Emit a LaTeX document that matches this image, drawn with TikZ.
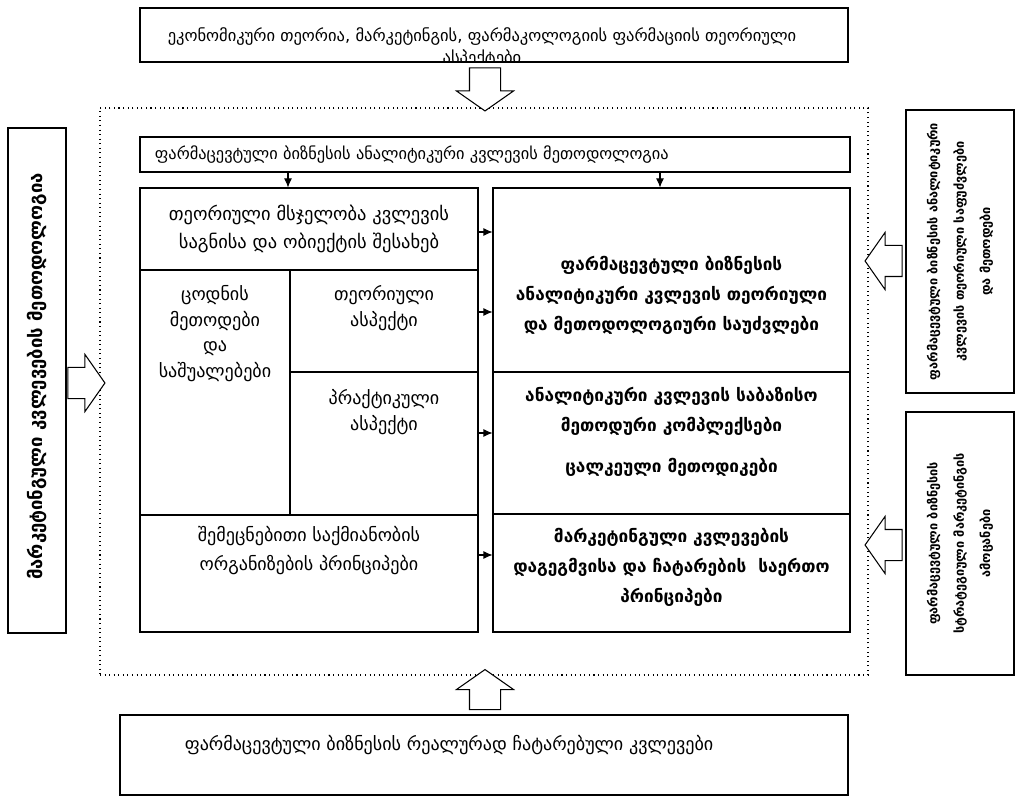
\documentclass[tikz,border=0pt]{standalone}
\usepackage{fontspec}
\setmainfont{DejaVu Sans}
\usetikzlibrary{shapes.geometric, shapes.arrows, arrows, arrows.meta, positioning}

\tikzstyle{block} = [rectangle, draw=black, line width=0.6pt, inner sep=0pt]
\tikzstyle{frame} = [rectangle, draw=black, line width=0.6pt, dotted, inner sep=0pt]
\tikzstyle{small} = [inner sep=0pt, align=center, font=\fontsize{9.4}{12.5}\selectfont]
\tikzstyle{plain} = [inner sep=0pt, align=center, font=\fontsize{10.3}{14.5}\selectfont]
\tikzstyle{heavy} = [inner sep=0pt, align=center, font=\bfseries\fontsize{9.8}{17}\selectfont]
\tikzstyle{vtext} = [inner sep=0pt, align=center, rotate=90, font=\bfseries\fontsize{10.5}{15}\selectfont]
\tikzstyle{vsmall} = [inner sep=0pt, align=center, rotate=90, font=\bfseries\fontsize{7.2}{15}\selectfont]
\tikzstyle{hollow} = [single arrow, draw=black, line width=0.6pt, fill=white, inner xsep=0pt, inner ysep=3mm, minimum width=11.2mm, single arrow head extend=2.6mm, single arrow tip angle=110]
\tikzstyle{arrow} = [line width=0.6pt,-{Latex[length=1.8mm,width=1.6mm]}]

\begin{document}
\begin{tikzpicture}[x=0.2mm, y=-0.2mm]
\useasboundingbox (0,0) rectangle (1017,798);

%% frame and outer boxes
\node (frame) [frame, minimum width=153.6mm, minimum height=113.4mm] at (484,391.5) {};
\node (top) [block, minimum width=141.6mm, minimum height=10.8mm] at (494,35) {};
\begin{scope}
\clip (top.south west) rectangle (top.north east);
\node (toptxt) [small, xshift=-2.4mm, yshift=-2.6mm] at (top.center) {ეკონომიკური თეორია, მარკეტინგის, ფარმაკოლოგიის ფარმაციის თეორიული\\ასპექტები};
\end{scope}
\node (real) [block, minimum width=145.6mm, minimum height=16mm] at (484,755) {};
\node (realtxt) [plain, anchor=west, xshift=13mm, yshift=2mm] at (real.west) {ფარმაცევტული ბიზნესის რეალურად ჩატარებული კვლევები};

\node (lmeth) [block, minimum width=11.6mm, minimum height=101mm] at (37,380.5) {};
\node (lmethtxt) [vtext, xshift=0.8mm] at (lmeth.center) {მარკეტინგული კვლევების მეთოდოლოგია};
\node (rtop) [block, minimum width=21.6mm, minimum height=56.6mm] at (960,251.5) {};
\node (rtoptxt) [vsmall] at (rtop.center) {ფარმაცევტული ბიზნესის ანალიტიკური\\კვლევის თეორიული საფუძვლები\\და მეთოდები};
\node (rbot) [block, minimum width=21.6mm, minimum height=52.6mm] at (960,543.5) {};
\node (rbottxt) [vsmall] at (rbot.center) {ფარმაცევტული ბიზნესის\\სტრატეგიული მარკეტინგის\\ამოცანები};

%% methodology bar
\node (method) [block, font=\fontsize{9.3}{13}\selectfont, align=left, text width=136mm, inner xsep=3mm, minimum height=7mm] at (495,154.5) {ფარმაცევტული ბიზნესის ანალიტიკური კვლევის მეთოდოლოგია};

%% left block
\node (teor) [block, minimum width=67.6mm, minimum height=16.4mm] at (309,229) {};
\node (teortxt) [plain, font=\fontsize{10.5}{16}\selectfont] at (teor.center) {თეორიული მსჯელობა კვლევის\\საგნისა და ობიექტის შესახებ};
\node (tsodna) [block, minimum width=30mm, minimum height=49mm] at (215,392.5) {};
\node (tsodnatxt) [plain, anchor=north, below=3.2mm of tsodna.north] {ცოდნის\\მეთოდები\\და\\საშუალებები};
\node (taspekt) [block, minimum width=37.6mm, minimum height=20.4mm] at (384,321) {};
\node (taspekttxt) [plain, anchor=north, below=3.2mm of taspekt.north] {თეორიული\\ასპექტი};
\node (paspekt) [block, minimum width=37.6mm, minimum height=28.6mm] at (384,443.5) {};
\node (paspekttxt) [plain, anchor=north, below=3.6mm of paspekt.north] {პრაქტიკული\\ასპექტი};
\node (shemetsn) [block, minimum width=67.6mm, minimum height=23.4mm] at (309,573.5) {};
\node (shemetsntxt) [plain, font=\fontsize{10.3}{16.5}\selectfont, anchor=north, below=2.4mm of shemetsn.north] {შემეცნებითი საქმიანობის\\ორგანიზების პრინციპები};

%% right block
\node (safudz) [block, minimum width=71.4mm, minimum height=36.8mm] at (671.5,280) {};
\node (safudztxt) [heavy, yshift=-3mm] at (safudz.center) {ფარმაცევტული ბიზნესის\\ანალიტიკური კვლევის თეორიული\\და მეთოდოლოგიური საუძვლები};
\node (complex) [block, minimum width=71.4mm, minimum height=28.4mm] at (671.5,443) {};
\node (complextxt) [heavy, yshift=2.2mm] at (complex.center) {ანალიტიკური კვლევის საბაზისო\\მეთოდური კომპლექსები\\[2.2mm]ცალკეული მეთოდიკები};
\node (mark) [block, minimum width=71.4mm, minimum height=23.6mm] at (671.5,573) {};
\node (marktxt) [heavy, yshift=1.2mm] at (mark.center) {მარკეტინგული კვლევების\\დაგეგმვისა და ჩატარების \ საერთო\\პრინციპები};

%% hollow arrows
\node (atop) [hollow, minimum height=8.6mm, rotate=-90] at (485,84) {};
\node (abot) [hollow, minimum height=8mm, rotate=90] at (485,695) {};
\node (aleft) [hollow, minimum height=7.4mm] at (81,383) {};
\node (artop) [hollow, minimum height=7.4mm, rotate=180] at (889,261) {};
\node (arbot) [hollow, minimum height=7.4mm, rotate=180] at (889,545) {};

%% small arrows
\draw [arrow] (method.south -| 288,0) -- (teor.north -| 288,0);
\draw [arrow] (method.south -| 660,0) -- (safudz.north -| 660,0);
\draw [arrow] (teor.east |- 0,232) -- (safudz.west |- 0,232);
\draw [arrow] (taspekt.east |- 0,312) -- (safudz.west |- 0,312);
\draw [arrow] (paspekt.east |- 0,433) -- (complex.west |- 0,433);
\draw [arrow] (shemetsn.east |- 0,555) -- (mark.west |- 0,555);

\end{tikzpicture}
\end{document}
